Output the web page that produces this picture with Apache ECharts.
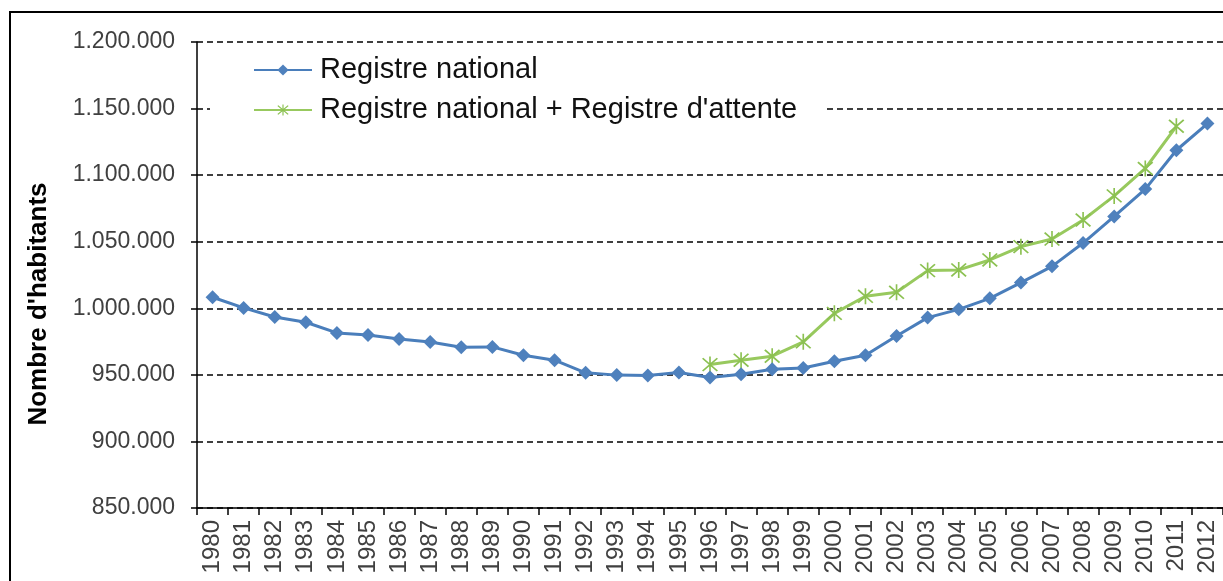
<!DOCTYPE html>
<html>
<head>
<meta charset="utf-8">
<script src="https://cdn.jsdelivr.net/npm/echarts@6/dist/echarts.min.js"></script>
<style>
html,body{margin:0;padding:0;background:#fff;}
#c{width:1223px;height:581px;}
</style>
</head>
<body>
<div id="c"></div>
<script>
var years = ['1980','1981','1982','1983','1984','1985','1986','1987','1988','1989','1990','1991','1992','1993','1994','1995','1996','1997','1998','1999','2000','2001','2002','2003','2004','2005','2006','2007','2008','2009','2010','2011','2012'];
var registreNational = [1008300,1000300,993500,989500,981500,980000,977000,974700,970700,971000,964700,961000,951500,949800,949500,951700,948000,950500,954200,955200,960200,964700,979200,993000,999200,1007500,1019300,1031500,1049000,1069000,1089500,1118700,1138700];
var registreAttente = [null,null,null,null,null,null,null,null,null,null,null,null,null,null,null,null,957700,961000,964000,974800,996200,1009000,1012000,1028300,1028800,1036300,1046300,1052000,1066300,1084400,1105000,1136700,null];
var seriesNames = ['Registre national','Registre national + Registre d\'attente'];
var yTitle = 'Nombre d\'habitants';

var FONT = '"Liberation Sans", Arial, sans-serif';
var starPath = 'path://M9.1,0 L10.9,0 L10.9,20 L9.1,20 Z M1.3,2.7 L2.7,1.3 L18.7,17.3 L17.3,18.7 Z M17.3,1.3 L18.7,2.7 L2.7,18.7 L1.3,17.3 Z';

function fmt(v){
  var s = String(Math.round(v));
  return s.replace(/\B(?=(\d{3})+(?!\d))/g, '.');
}

var chart = echarts.init(document.getElementById('c'));
chart.setOption({
  animation: false,
  backgroundColor: '#fff',
  textStyle: {fontFamily: FONT},
  grid: {left: 197, top: 42, width: 1027, height: 466, containLabel: false},
  legend: {
    orient: 'vertical',
    left: 210,
    top: 50,
    padding: [5, 28, 5, 43],
    backgroundColor: '#fff',
    itemWidth: 58,
    itemHeight: 14,
    itemGap: 10,
    textStyle: {fontFamily: FONT, fontSize: 29, color: '#111', lineHeight: 30, padding: [0,0,0,3]},
    data: seriesNames
  },
  xAxis: {
    type: 'category',
    data: years,
    boundaryGap: true,
    axisLine: {lineStyle: {color: '#000', width: 1.5}},
    axisTick: {show: true, length: 7, lineStyle: {color: '#000', width: 1.5}},
    axisLabel: {rotate: 90, fontSize: 24, color: '#404040', margin: 12, interval: 0, fontFamily: FONT},
    splitLine: {show: false}
  },
  yAxis: {
    type: 'value',
    min: 850000,
    max: 1200000,
    interval: 50000,
    axisLine: {show: true, lineStyle: {color: '#000', width: 1.5}},
    axisTick: {show: true, length: 6, lineStyle: {color: '#000', width: 1.5}},
    axisLabel: {fontSize: 23, color: '#404040', margin: 22, formatter: fmt, fontFamily: FONT},
    splitLine: {show: true, lineStyle: {color: '#000', width: 1.5, type: [6, 4]}}
  },
  graphic: [
    {type: 'rect', shape: {x: 10, y: 12, width: 1400, height: 800}, style: {fill: 'none', stroke: '#000', lineWidth: 2}, z: 100, silent: true},
    {type: 'text', x: 39, y: 304, rotation: Math.PI / 2,
     style: {text: yTitle, font: 'bold 26px ' + FONT, fill: '#000', align: 'center', verticalAlign: 'middle'}}
  ],
  series: [
    {
      name: seriesNames[0],
      type: 'line',
      data: registreNational,
      symbol: 'diamond',
      symbolSize: 14,
      lineStyle: {color: '#4A7EBB', width: 3},
      itemStyle: {color: '#4F81BD'},
      z: 3
    },
    {
      name: seriesNames[1],
      type: 'line',
      data: registreAttente,
      connectNulls: false,
      symbol: starPath,
      symbolSize: 16,
      lineStyle: {color: '#98C95E', width: 3},
      itemStyle: {color: '#8CC152'},
      z: 2
    }
  ]
});
</script>
</body>
</html>
